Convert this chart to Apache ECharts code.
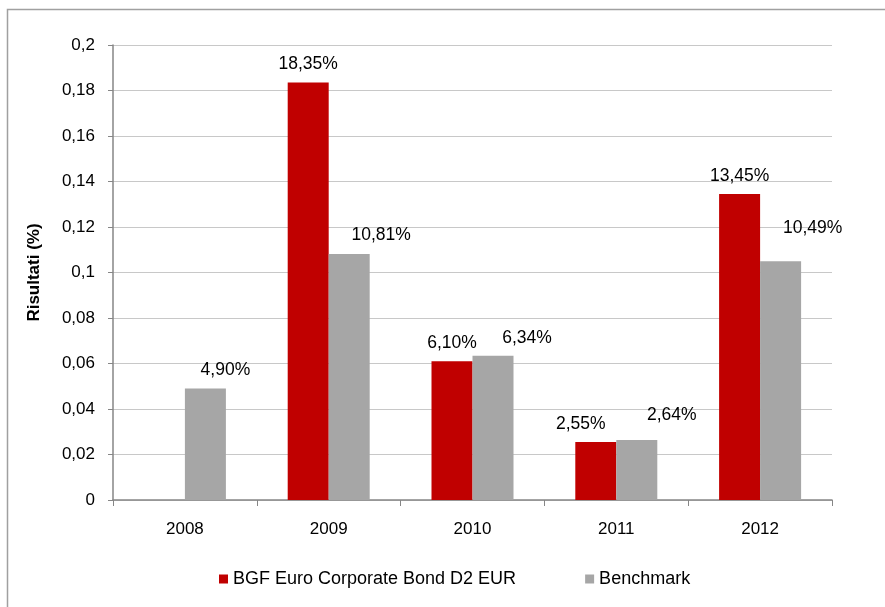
<!DOCTYPE html>
<html>
<head>
<meta charset="utf-8">
<script src="https://cdn.jsdelivr.net/npm/echarts@6/dist/echarts.min.js"></script>
<style>
  html, body { margin: 0; padding: 0; background: #fff; }
  #chart { width: 885px; height: 607px; }
</style>
</head>
<body>
<div id="chart"></div>
<script>
const years = ["2008", "2009", "2010", "2011", "2012"];
const fundValues = [null, 0.1835, 0.061, 0.0255, 0.1345];
const benchValues = [0.049, 0.1081, 0.0634, 0.0264, 0.1049];
const seriesNames = ["BGF Euro Corporate Bond D2 EUR", "Benchmark"];

// hand-placed data label nudges, like in the original sheet
const fundLabelShift = [[0, 0], [0, 0], [0, 0], [-15, 0], [0, 0]];
const benchLabelShift = [[20, 0], [32, -1], [34, 0], [35, -7], [32, -15]];

const font = "Liberation Sans, Arial, sans-serif";
const pct = (v) => (v * 100).toFixed(2).replace(".", ",") + "%";

const withLabels = (values, shifts) =>
  values.map((v, i) => ({ value: v, label: { offset: shifts[i] } }));

const chart = echarts.init(document.getElementById("chart"));

const labelBase = {
  show: true,
  position: "top",
  distance: 9,
  color: "#000",
  fontSize: 17.5,
  fontFamily: font
};

chart.setOption({
  animation: false,
  textStyle: { fontFamily: font },
  graphic: [
    {
      // outer chart frame
      type: "rect",
      shape: { x: 7.5, y: 9.5, width: 900, height: 620 },
      style: { fill: "none", stroke: "#a0a0a0", lineWidth: 1.5 }
    }
  ],
  grid: { left: 113, right: 53, top: 45, bottom: 107 },
  legend: {
    top: 565,
    left: 214,
    itemWidth: 9,
    itemHeight: 9,
    itemGap: 69,
    icon: "rect",
    textStyle: { fontFamily: font, fontSize: 18, color: "#000" },
    data: seriesNames
  },
  xAxis: {
    type: "category",
    data: years,
    axisLine: { lineStyle: { color: "#868686", width: 1.5 } },
    axisTick: { show: true, length: 6, lineStyle: { color: "#868686" } },
    axisLabel: { color: "#000", fontSize: 17, margin: 21, fontFamily: font }
  },
  yAxis: {
    type: "value",
    min: 0,
    max: 0.2,
    interval: 0.02,
    name: "Risultati (%)",
    nameLocation: "middle",
    nameGap: 70,
    nameTextStyle: { fontWeight: "bold", fontSize: 17, color: "#000", fontFamily: font },
    axisLine: { show: true, lineStyle: { color: "#868686", width: 1.5 } },
    axisTick: { show: true, length: 5, lineStyle: { color: "#868686" } },
    splitLine: { lineStyle: { color: "#c8c8c8", width: 1.2 } },
    axisLabel: {
      color: "#000",
      fontSize: 17,
      margin: 18,
      fontFamily: font,
      formatter: (v) => String(Math.round(v * 100) / 100).replace(".", ",")
    }
  },
  series: [
    {
      name: seriesNames[0],
      type: "bar",
      data: withLabels(fundValues, fundLabelShift),
      barWidth: 41,
      barGap: "0%",
      itemStyle: { color: "#c00000" },
      label: Object.assign({}, labelBase, {
        formatter: (p) => (p.value == null ? "" : pct(p.value))
      })
    },
    {
      name: seriesNames[1],
      type: "bar",
      data: withLabels(benchValues, benchLabelShift),
      barWidth: 41,
      barGap: "0%",
      itemStyle: { color: "#a6a6a6" },
      label: Object.assign({}, labelBase, {
        formatter: (p) => pct(p.value)
      })
    }
  ]
});
</script>
</body>
</html>
